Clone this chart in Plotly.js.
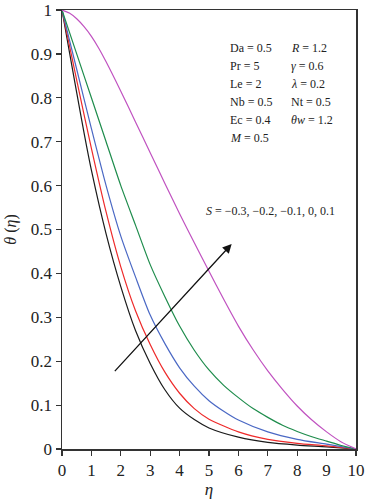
<!DOCTYPE html>
<html>
<head>
<meta charset="utf-8">
<script src="https://cdn.plot.ly/plotly-3.0.1.min.js"></script>
<style>html,body{margin:0;padding:0;background:#fff;}#chart{width:365px;height:500px;}</style>
</head>
<body>
<div id="chart"></div>
<script>
// Data
const etaBlack = [0, 0.25, 0.5, 0.75, 1, 1.5, 2, 2.5, 3, 3.5, 4, 4.5, 5, 6, 7, 8, 9, 10];
const thetaBlack = [1, 0.905, 0.812, 0.72, 0.635, 0.49, 0.37, 0.27, 0.195, 0.135, 0.093, 0.067, 0.048, 0.027, 0.015, 0.009, 0.005, 0];

const etaRed = [0, 0.5, 1, 1.5, 2, 2.5, 3, 3.5, 4, 4.5, 5, 6, 7, 8, 9, 10];
const thetaRed = [1, 0.84, 0.685, 0.54, 0.415, 0.315, 0.238, 0.175, 0.127, 0.092, 0.068, 0.039, 0.022, 0.013, 0.007, 0];

const etaBlue = [0, 0.5, 1, 1.5, 2, 2.5, 3, 3.5, 4, 4.5, 5, 5.5, 6, 7, 8, 9, 10];
const thetaBlue = [1, 0.865, 0.73, 0.6, 0.485, 0.392, 0.305, 0.24, 0.185, 0.143, 0.11, 0.086, 0.066, 0.039, 0.022, 0.011, 0];

const etaGreen = [0, 0.5, 1, 1.5, 2, 2.5, 3, 3.5, 4, 4.5, 5, 5.5, 6, 6.5, 7, 7.5, 8, 8.5, 9, 9.5, 10];
const thetaGreen = [1, 0.9, 0.8, 0.7, 0.6, 0.51, 0.42, 0.347, 0.28, 0.225, 0.18, 0.145, 0.117, 0.092, 0.072, 0.054, 0.04, 0.028, 0.018, 0.008, 0];

const etaMagenta = [0, 0.25, 0.5, 0.75, 1, 1.25, 1.5, 2, 2.5, 3, 3.5, 4, 4.5, 5, 5.5, 6, 6.5, 7, 7.5, 8, 8.5, 9, 9.5, 10];
const thetaMagenta = [1, 0.993, 0.98, 0.962, 0.94, 0.913, 0.882, 0.815, 0.745, 0.675, 0.605, 0.536, 0.47, 0.405, 0.341, 0.28, 0.226, 0.178, 0.136, 0.098, 0.066, 0.039, 0.016, 0];

const xTickVals = [0, 1, 2, 3, 4, 5, 6, 7, 8, 9, 10];
const xTickText = ['0', '1', '2', '3', '4', '5', '6', '7', '8', '9', '10'];
const yTickVals = [0, 0.1, 0.2, 0.3, 0.4, 0.5, 0.6, 0.7, 0.8, 0.9, 1];
const yTickText = ['0', '0.1', '0.2', '0.3', '0.4', '0.5', '0.6', '0.7', '0.8', '0.9', '1'];

const paramCol1 = ['Da = 0.5', 'Pr = 5', 'Le = 2', 'Nb = 0.5', 'Ec = 0.4', '<i>M</i> = 0.5'];
const paramCol2 = ['<i>R</i> = 1.2', '<i>γ</i> = 0.6', '<i>λ</i> = 0.2', 'Nt = 0.5', '<i>θw</i> = 1.2'];
const sLabel = '<i>S</i> = −0.3, −0.2, −0.1, 0, 0.1';

const serif = 'Liberation Serif, Times New Roman, serif';

const series = [
  {x: etaBlack, y: thetaBlack, color: '#1a1a1a'},
  {x: etaRed, y: thetaRed, color: '#ee2a2a'},
  {x: etaBlue, y: thetaBlue, color: '#4a68c4'},
  {x: etaGreen, y: thetaGreen, color: '#1e8c4c'},
  {x: etaMagenta, y: thetaMagenta, color: '#c052c0'}
];

const traces = series.map(s => ({
  x: s.x, y: s.y, type: 'scatter', mode: 'lines',
  line: {color: s.color, width: 1.2, shape: 'spline', smoothing: 0.7},
  hoverinfo: 'skip', showlegend: false
}));

const annotations = [];
const rowY0 = 48.3, rowDy = 17.9;
function pxToTheta(py) { return (449 - py) / 439; }
paramCol1.forEach((t, i) => annotations.push({
  x: 5.65, y: pxToTheta(rowY0 + i * rowDy), xref: 'x', yref: 'y', text: t,
  showarrow: false, xanchor: 'left', yanchor: 'middle',
  font: {family: serif, size: 12, color: '#222'}
}));
paramCol2.forEach((t, i) => annotations.push({
  x: 7.72, y: pxToTheta(rowY0 + i * rowDy), xref: 'x', yref: 'y', text: t,
  showarrow: false, xanchor: 'left', yanchor: 'middle',
  font: {family: serif, size: 12, color: '#222'}
}));
annotations.push({
  x: 7.08, y: 0.542, xref: 'x', yref: 'y', text: sLabel, showarrow: false,
  xanchor: 'center', yanchor: 'middle', font: {family: serif, size: 12, color: '#222'}
});
annotations.push({
  x: 5.77, y: 0.467, ax: 1.75, ay: 0.174, xref: 'x', yref: 'y', axref: 'x', ayref: 'y',
  text: '', showarrow: true, arrowhead: 2, arrowsize: 1.4, arrowwidth: 1.3, arrowcolor: '#111'
});

const layout = {
  width: 365, height: 500,
  margin: {l: 62, r: 9, t: 10, b: 51},
  paper_bgcolor: '#fff', plot_bgcolor: '#fff',
  font: {family: serif, color: '#222', size: 14},
  showlegend: false,
  xaxis: {
    range: [0, 10], tickvals: xTickVals, ticktext: xTickText,
    ticks: 'outside', ticklen: 5, tickwidth: 1.2, tickcolor: '#333',
    showline: true, linecolor: '#333', linewidth: 1.5, mirror: true,
    showgrid: false, zeroline: false,
    tickfont: {family: serif, size: 17, color: '#222'},
    title: {text: '<i>η</i>', font: {family: serif, size: 17, color: '#222'}, standoff: 4}
  },
  yaxis: {
    range: [0, 1], tickvals: yTickVals, ticktext: yTickText,
    ticks: 'outside', ticklen: 5, tickwidth: 1.2, tickcolor: '#333',
    showline: true, linecolor: '#333', linewidth: 1.5, mirror: true,
    showgrid: false, zeroline: false,
    tickfont: {family: serif, size: 17, color: '#222'},
    title: {text: '<i>θ</i> (<i>η</i>)', font: {family: serif, size: 16, color: '#222'}, standoff: 10}
  },
  annotations: annotations
};

Plotly.newPlot('chart', traces, layout, {displayModeBar: false, staticPlot: true});
</script>
</body>
</html>
